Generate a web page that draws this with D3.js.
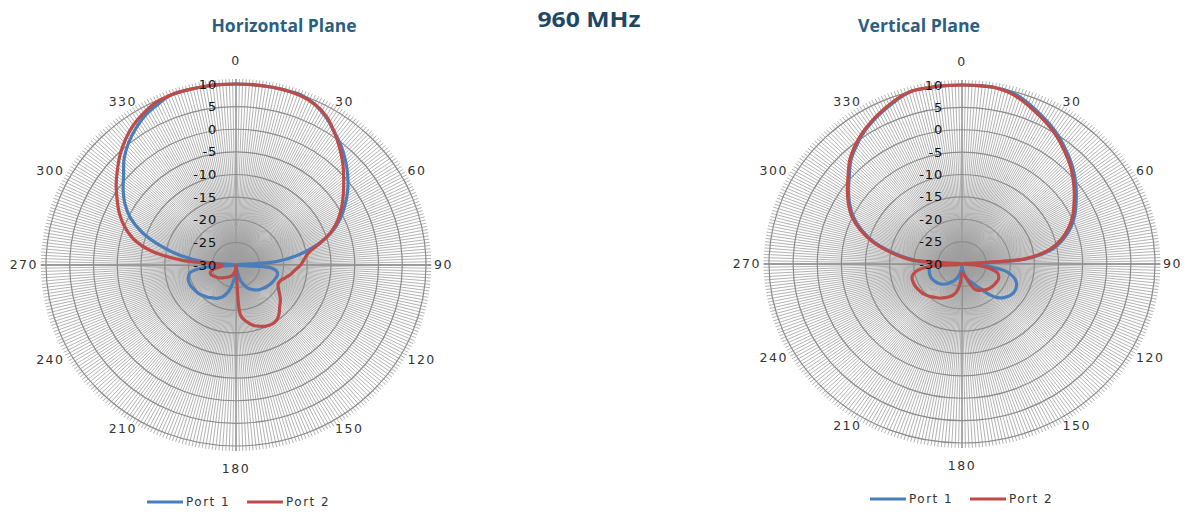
<!DOCTYPE html>
<html>
<head>
<meta charset="utf-8">
<script src="https://cdn.jsdelivr.net/npm/d3@7"></script>
<style>
  html, body { margin: 0; padding: 0; background: #fff; }
  svg { display: block; }
</style>
</head>
<body>
<svg id="chart" width="1191" height="514"></svg>
<script>
// Azimuth angles of the pattern samples (degrees, clockwise from 0)
const angleDeg = [0,5,10,15,20,25,30,35,40,45,50,55,60,65,70,75,80,85,90,95,100,105,110,115,
  120,125,130,135,140,145,150,155,160,165,170,175,180,185,190,195,200,205,210,215,220,225,230,235,
  240,245,250,255,260,265,270,275,280,285,290,295,300,305,310,315,320,325,330,335,340,345,350,355];

// Gain in dB, horizontal plane
const hPort1 = [10.5,10.6,10.6,10.5,10.1,9.2,7.8,6.0,4.4,2.6,0.7,-1.3,-3.5,-5.8,-8.5,-12.0,-16.3,-21.5,
  -30,-22.5,-21.2,-21.0,-21.2,-21.4,-21.6,-21.9,-22.2,-22.5,-22.8,-23.3,-23.8,-24.4,-25.5,-26.5,-29,-30,
  -30,-28,-25.8,-24.0,-22.8,-22.0,-21.5,-21.2,-20.7,-20.4,-20.0,-19.8,-19.6,-19.4,-19.4,-19.6,-20.2,-23.0,
  -30,-24.0,-18.3,-13.5,-9.0,-5.5,-3.0,-1.0,0.9,3.3,5.2,6.8,8.2,9.1,10.0,10.4,10.5,10.6];
const hPort2 = [10.3,10.4,10.4,10.2,9.8,9.2,8.0,6.0,3.9,1.8,-0.4,-2.4,-4.3,-6.3,-8.7,-11.8,-14.5,-15.6,
  -16.4,-17.5,-18.3,-19.2,-20.0,-20.2,-19.7,-18.8,-17.8,-17.0,-15.9,-15.1,-14.9,-15.1,-15.6,-16.2,-17.3,-18.8,
  -30,-29,-28.5,-28,-27.5,-27.2,-27,-26.7,-26.4,-26,-25.6,-25.2,-24.9,-24.5,-24.3,-24.5,-25.5,-27,
  -27,-19,-11.8,-7.6,-5.0,-2.9,-1.1,0.8,2.6,4.5,6.2,7.7,8.8,9.7,10.3,10.7,10.8,10.6];

// Gain in dB, vertical plane
const vPort1 = [10.5,10.5,10.3,9.7,8.7,7.4,6.2,4.9,3.4,2.0,0.5,-1.1,-2.7,-4.2,-6.0,-8.2,-11.0,-16.5,
  -26,-24.5,-20.8,-19.0,-18.0,-17.6,-17.5,-17.8,-18.4,-19.3,-21.0,-23.2,-24.6,-25.6,-26.3,-27.0,-28.0,-29.0,
  -30,-29.0,-28.0,-27.2,-26.4,-25.8,-25.3,-24.6,-24.1,-23.7,-23.4,-23.2,-23.0,-22.9,-22.9,-23.0,-23.1,-23.3,
  -24.5,-20.0,-15.5,-11.2,-7.9,-5.2,-3.1,-1.3,0.5,2.6,4.2,5.7,6.9,8.0,9.1,10.0,10.4,10.5];
const vPort2 = [10.5,10.4,10.1,9.4,8.3,7.0,5.8,4.5,3.0,1.6,0.0,-1.6,-3.2,-4.7,-6.5,-8.7,-11.6,-17.0,
  -30,-27.0,-24.0,-22.4,-21.9,-21.7,-21.8,-21.9,-22.0,-22.2,-22.5,-22.9,-23.2,-23.8,-25.5,-26.8,-27.5,-27.8,
  -28.0,-25.5,-23.8,-22.8,-22.2,-21.7,-21.2,-20.8,-20.4,-20.0,-19.6,-19.4,-19.2,-19.1,-19.1,-19.3,-20.3,-23.0,
  -30,-19.5,-15.0,-10.8,-7.5,-4.8,-2.8,-1.0,0.8,2.9,4.5,5.9,7.1,8.2,9.3,10.1,10.5,10.6];

// Axis labels
const radialTicks = [10, 5, 0, -5, -10, -15, -20, -25, -30];
const angleTicks = [0, 30, 60, 90, 120, 150, 180, 210, 240, 270, 300, 330];
const seriesNames = ["Port 1", "Port 2"];
const seriesColors = ["#4a7ebb", "#be4b48"];

const svg = d3.select("#chart");

// Page headline
svg.append("text")
  .attr("x", 589).attr("y", 27)
  .attr("text-anchor", "middle")
  .attr("font-family", "'Open Sans', 'DejaVu Sans', sans-serif")
  .attr("font-weight", "bold")
  .attr("font-size", 22)
  .attr("textLength", 103).attr("lengthAdjust", "spacingAndGlyphs")
  .attr("fill", "#1e4765")
  .text("960 MHz");

const panels = [
  { title: "Horizontal Plane", titleX: 284, titleW: 145, cx: 236, cy: 265, rx: 190, ry: 181,
    series: [hPort1, hPort2], legendX: 147, legendY: 502 },
  { title: "Vertical Plane", titleX: 919, titleW: 122, cx: 962, cy: 264, rx: 193, ry: 179,
    series: [vPort1, vPort2], legendX: 870, legendY: 499 }
];

panels.forEach(p => {
  const r = d3.scaleLinear().domain([-30, 10]).range([0, p.ry]).clamp(true);
  const sx = p.rx / p.ry;
  const rad = d => d * Math.PI / 180;

  svg.append("text")
    .attr("x", p.titleX).attr("y", 32)
    .attr("text-anchor", "middle")
    .attr("font-family", "'Open Sans', 'DejaVu Sans', sans-serif")
    .attr("font-weight", "bold")
    .attr("font-size", 17)
    .attr("textLength", p.titleW).attr("lengthAdjust", "spacingAndGlyphs")
    .attr("fill", "#2a5f82")
    .text(p.title);

  const g = svg.append("g").attr("transform", `translate(${p.cx},${p.cy})`);
  // plot area is slightly wider than tall
  const plot = g.append("g").attr("transform", `scale(${sx},1)`);

  // spokes, one per degree, running a little past the outer ring as tick marks
  const spokes = d3.range(360);
  plot.append("g").selectAll("line").data(spokes).join("line")
    .attr("x1", 0).attr("y1", 0)
    .attr("x2", d => (r(10) + 5) * Math.sin(rad(d)))
    .attr("y2", d => -(r(10) + 5) * Math.cos(rad(d)))
    .attr("stroke", d => d % 90 === 0 ? "#7a7a7a" : "#a0a0a0")
    .attr("stroke-width", d => d % 90 === 0 ? 1.3 : 0.8)
    .attr("vector-effect", "non-scaling-stroke");

  // concentric rings every 5 dB
  plot.append("g").selectAll("circle").data(radialTicks.filter(v => v > -30)).join("circle")
    .attr("r", d => r(d))
    .attr("fill", "none")
    .attr("stroke", "#8c8c8c")
    .attr("stroke-width", 1.2)
    .attr("vector-effect", "non-scaling-stroke");

  // pattern traces
  const line = d3.lineRadial()
    .angle(d => rad(d[0]))
    .radius(d => r(d[1]))
    .curve(d3.curveCatmullRomClosed.alpha(0.5));

  p.series.forEach((vals, i) => {
    const pts = angleDeg.map((a, k) => [a, vals[k]]);
    plot.append("path")
      .attr("d", line(pts))
      .attr("fill", "none")
      .attr("stroke", seriesColors[i])
      .attr("stroke-width", 3.2)
      .attr("stroke-linejoin", "round")
      .attr("vector-effect", "non-scaling-stroke");
  });

  // dB labels along the 0° spoke
  g.append("g").selectAll("text").data(radialTicks).join("text")
    .attr("x", -19)
    .attr("y", d => -r(d))
    .attr("dy", "0.35em")
    .attr("text-anchor", "end")
    .attr("font-family", "'DejaVu Sans', sans-serif")
    .attr("font-size", 13)
    .attr("letter-spacing", 0.8)
    .attr("fill", "#111")
    .text(d => d);

  // angle labels
  g.append("g").selectAll("text").data(angleTicks).join("text")
    .attr("x", d => (d % 180 === 0 ? 0 : (p.rx + 8) * Math.sin(rad(d))))
    .attr("y", d => d % 180 === 0 ? -(p.ry + 23) * Math.cos(rad(d)) : -(p.ry + 8) * Math.cos(rad(d)))
    .attr("dy", "0.35em")
    .attr("text-anchor", d => d === 0 || d === 180 ? "middle" : (d < 180 ? "start" : "end"))
    .attr("font-family", "'DejaVu Sans', sans-serif")
    .attr("font-size", 12.5)
    .attr("letter-spacing", 1.5)
    .attr("fill", "#333")
    .text(d => d);

  // legend
  const lg = svg.append("g").attr("transform", `translate(${p.legendX},${p.legendY})`);
  seriesNames.forEach((name, i) => {
    const ox = i * 100;
    lg.append("line")
      .attr("x1", ox).attr("x2", ox + 36).attr("y1", 0).attr("y2", 0)
      .attr("stroke", seriesColors[i]).attr("stroke-width", 3);
    lg.append("text")
      .attr("x", ox + 39).attr("y", 0).attr("dy", "0.35em")
      .attr("font-family", "'DejaVu Sans', sans-serif")
      .attr("font-size", 12)
      .attr("letter-spacing", 1.5)
      .attr("fill", "#333")
      .text(name);
  });
});
</script>
</body>
</html>
